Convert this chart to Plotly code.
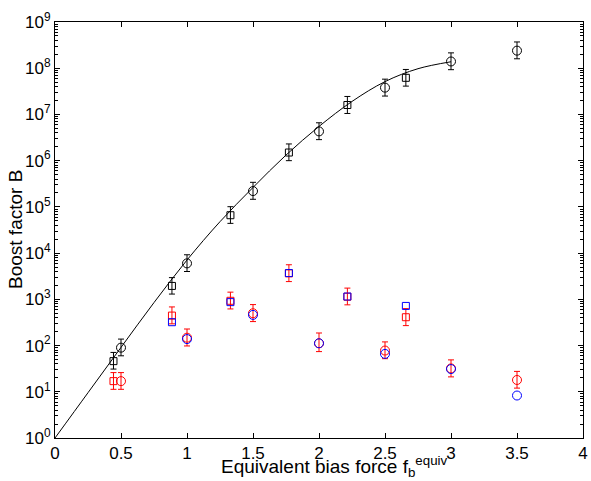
import plotly.graph_objects as go

# ---- data ----
fit_x = [0, 0.25, 0.5, 0.75, 1.0, 1.25, 1.5, 1.75, 2.0, 2.25, 2.5, 2.75, 3.0]
fit_B = [1, 9.55, 91.2, 851, 7080, 4.79e4, 2.63e5, 1.32e6, 5.50e6, 1.91e7, 5.13e7, 9.77e7, 1.38e8]

sq_x = [0.443, 0.886, 1.329, 1.772, 2.215, 2.658]
circ_x = [0.5, 1.0, 1.5, 2.0, 2.5, 3.0, 3.5]

black_sq_B = [46, 1950, 6.6e4, 1.5e6, 1.6e7, 6.2e7]
black_sq_up = [25, 1000, 3.5e4, 8.0e5, 8.5e6, 3.2e7]
black_sq_dn = [15, 650, 2.2e4, 5.0e5, 5.5e6, 2.1e7]

black_circ_B = [90, 6000, 2.2e5, 4.3e6, 3.8e7, 1.4e8, 2.4e8]
black_circ_up = [48, 3200, 1.2e5, 2.3e6, 2.0e7, 7.5e7, 1.3e8]
black_circ_dn = [30, 2000, 7.4e4, 1.45e6, 1.3e7, 4.7e7, 8.0e7]

red_sq_B = [17, 445, 930, 3650, 1140, 410]
red_sq_up = [9, 240, 500, 1950, 610, 220]
red_sq_dn = [5.7, 150, 310, 1230, 380, 140]

red_circ_B = [17, 148, 500, 112, 78, 32, 18]
red_circ_up = [9, 80, 270, 75, 42, 17, 9.6]
red_circ_dn = [5.7, 50, 170, 38, 26, 11, 6]

blue_sq_x = [0.886, 1.329, 1.772, 2.215, 2.658]
blue_sq_B = [320, 870, 3700, 1150, 720]

blue_circ_x = [1.0, 1.5, 2.0, 2.5, 3.0, 3.5]
blue_circ_B = [138, 460, 112, 66, 31, 8.3]

x_ticks = [0, 0.5, 1, 1.5, 2, 2.5, 3, 3.5, 4]
y_exps = list(range(0, 10))

FONT = "Liberation Sans, Arial, sans-serif"

fig = go.Figure()

fig.add_trace(go.Scatter(x=fit_x, y=fit_B, mode="lines", line=dict(color="black", width=1, shape="spline"),
                         hoverinfo="skip"))


def err(up, dn, color):
    return dict(type="data", symmetric=False, array=up, arrayminus=dn, color=color, thickness=1, width=3)


fig.add_trace(go.Scatter(x=sq_x, y=black_sq_B, mode="markers",
                         marker=dict(symbol="square-open", size=7, color="black", line=dict(width=1)),
                         error_y=err(black_sq_up, black_sq_dn, "black")))
fig.add_trace(go.Scatter(x=circ_x, y=black_circ_B, mode="markers",
                         marker=dict(symbol="circle-open", size=9, color="black", line=dict(width=1)),
                         error_y=err(black_circ_up, black_circ_dn, "black")))
fig.add_trace(go.Scatter(x=sq_x, y=red_sq_B, mode="markers",
                         marker=dict(symbol="square-open", size=7, color="#ff0000", line=dict(width=1)),
                         error_y=err(red_sq_up, red_sq_dn, "#ff0000")))
fig.add_trace(go.Scatter(x=circ_x, y=red_circ_B, mode="markers",
                         marker=dict(symbol="circle-open", size=9, color="#ff0000", line=dict(width=1)),
                         error_y=err(red_circ_up, red_circ_dn, "#ff0000")))
fig.add_trace(go.Scatter(x=blue_sq_x, y=blue_sq_B, mode="markers",
                         marker=dict(symbol="square-open", size=7, color="#0000ff", line=dict(width=1))))
fig.add_trace(go.Scatter(x=blue_circ_x, y=blue_circ_B, mode="markers",
                         marker=dict(symbol="circle-open", size=9, color="#0000ff", line=dict(width=1))))

fig.update_layout(
    width=591, height=481,
    margin=dict(l=55, r=8, t=22, b=43, autoexpand=False),
    paper_bgcolor="white", plot_bgcolor="white",
    showlegend=False,
    font=dict(family=FONT, size=17, color="black"),
    annotations=[
        dict(text="Equivalent bias force f<sub>b</sub><sup>equiv</sup>",
             xref="paper", yref="paper", x=0.528, y=0, yshift=-28,
             xanchor="center", yanchor="middle", showarrow=False,
             font=dict(family=FONT, size=19, color="black")),
        dict(text="Boost factor B", textangle=-90,
             xref="paper", yref="paper", x=0, xshift=-40, y=0.5,
             xanchor="center", yanchor="middle", showarrow=False,
             font=dict(family=FONT, size=19, color="black")),
    ],
)

fig.update_xaxes(
    range=[0, 4], tickvals=x_ticks, ticktext=[f"{v:g}" for v in x_ticks],
    showline=True, linecolor="black", linewidth=1, mirror="ticks",
    ticks="inside", ticklen=5, tickcolor="black", showgrid=False, zeroline=False,
    tickfont=dict(family=FONT, size=17), automargin=False,
)
fig.update_yaxes(
    type="log", range=[0, 9],
    tickvals=[10 ** e for e in y_exps], ticktext=[f"10<sup>{e}</sup>" for e in y_exps],
    showline=True, linecolor="black", linewidth=1, mirror="ticks",
    ticks="inside", ticklen=5, tickcolor="black", showgrid=False, zeroline=False,
    minor=dict(ticks="inside", ticklen=3, tickcolor="black", dtick="D1", showgrid=False),
    tickfont=dict(family=FONT, size=17), automargin=False,
)

fig.write_html("out.html", config={"displayModeBar": False},
               post_script="document.body.style.margin='0';document.body.style.overflow='hidden';")
